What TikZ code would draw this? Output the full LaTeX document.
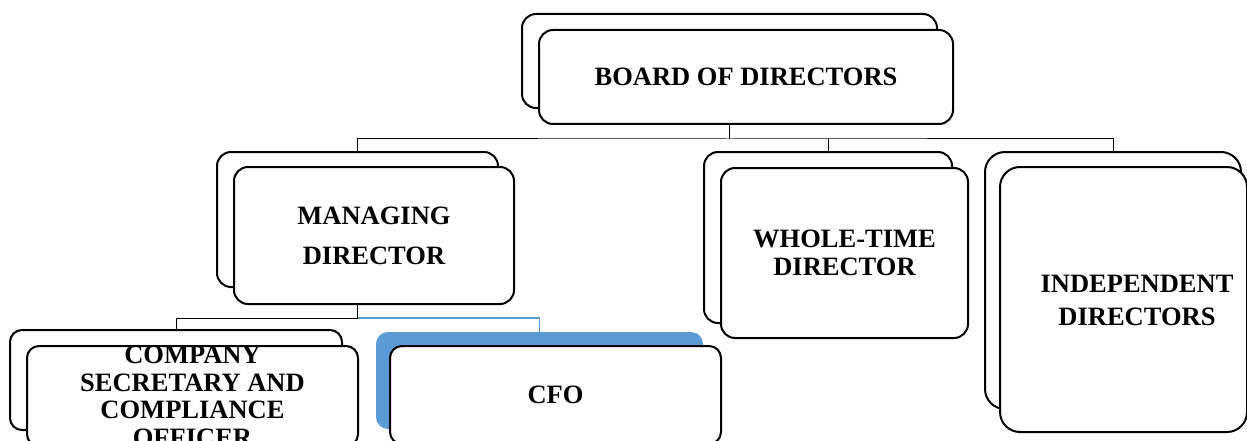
\documentclass[tikz,border=0pt]{standalone}
\usepackage{fontspec}
\setmainfont{Liberation Serif}
\usetikzlibrary{positioning}
\definecolor{accentblue}{RGB}{91,155,213}

\tikzset{
  card/.style={draw=black, line width=2pt, fill=white, rounded corners=14pt,
    rectangle, inner sep=0pt, anchor=north west, align=center,
    font=\bfseries\fontsize{26.5}{28}\selectfont},
  link/.style={draw=black, line width=1pt},
  bluelink/.style={draw=accentblue, line width=1.4pt}
}

\begin{document}
\begin{tikzpicture}[x=1pt, y=-1pt]
  \clip (0,0) rectangle (1247,441);
  \fill[white] (0,0) rectangle (1247,441);

  % Board of directors
  \node[card, minimum width=415pt, minimum height=94pt] (board-back) at (521,13) {};
  \node[card, minimum width=414pt, minimum height=94pt] (board) at (538,29) {BOARD OF DIRECTORS};

  % Second row
  \node[card, minimum width=281pt, minimum height=135pt] (md-back) at (216,151) {};
  \node[card, minimum width=280pt, minimum height=137pt,
        font=\bfseries\fontsize{26.5}{40}\selectfont] (md) at (233,166) {MANAGING\\DIRECTOR};

  \node[card, minimum width=248pt, minimum height=171pt] (wt-back) at (703,151) {};
  \node[card, minimum width=247pt, minimum height=170pt] (wt) at (720,167) {WHOLE-TIME\\DIRECTOR};

  \node[card, rounded corners=20pt, minimum width=256pt, minimum height=257pt] (id-back) at (984,151) {};
  \node[card, rounded corners=20pt, minimum width=247pt, minimum height=265pt] (id) at (999,166) {};
  \node[font=\bfseries\fontsize{26.5}{33}\selectfont, align=center] (id-text) at (1137,300) {INDEPENDENT\\DIRECTORS};

  % Third row
  \node[card, rounded corners=12pt, minimum width=332pt, minimum height=100pt] (cs-back) at (9,329) {};
  \node[card, rounded corners=12pt, minimum width=331pt, minimum height=100pt,
        font=\bfseries\fontsize{26.5}{27.5}\selectfont] (cs) at (26,345)
        {COMPANY\\SECRETARY AND\\COMPLIANCE\\OFFICER};

  \node[card, draw=none, fill=accentblue, rounded corners=12pt, minimum width=327pt, minimum height=97pt] (cfo-back) at (375,331) {};
  \node[card, rounded corners=12pt, minimum width=331pt, minimum height=98pt] (cfo) at (389,345) {CFO};

  % Connectors
  \draw[link] (board-back.south |- board.south) -- ++(0,14) coordinate (topbus);
  \draw[link] (md-back.north) |- (topbus) -| (id-back.north);
  \draw[link] (topbus -| wt-back.north) -- (wt-back.north);

  \draw[link] (md-back.south |- md.south) -- ++(0,13) coordinate (mdbus);
  \draw[link] (mdbus) -| (cs-back.north);
  \draw[bluelink] (mdbus) -| ([yshift=-4pt]cfo-back.north);
\end{tikzpicture}
\end{document}
